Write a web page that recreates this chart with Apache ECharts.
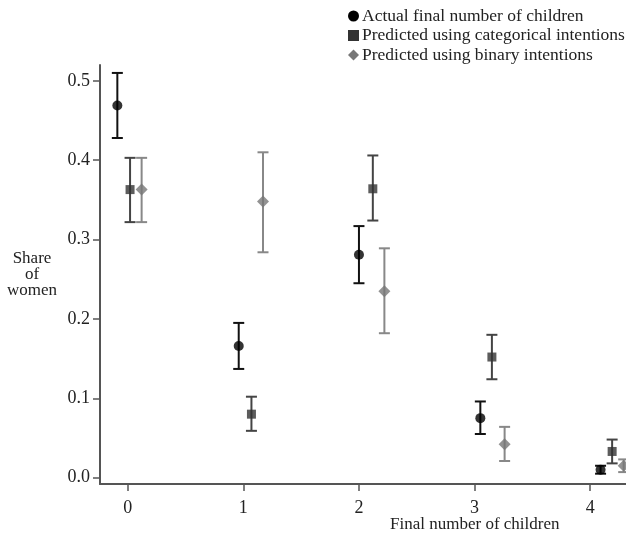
<!DOCTYPE html>
<html>
<head>
<meta charset="utf-8">
<script src="https://cdn.jsdelivr.net/npm/echarts@6/dist/echarts.min.js"></script>
<style>
  html, body { margin: 0; padding: 0; background: #fff; }
  #chart { width: 626px; height: 536px; }
</style>
</head>
<body>
<div id="chart"></div>
<script>
// x ticks
const xTicks = [0, 1, 2, 3, 4]
const yTicks = [0, 0.1, 0.2, 0.3, 0.4, 0.5]

// Actual final number of children
const actualX = [-0.09, 0.96, 2.0, 3.05, 4.09]
const actualMean = [0.469, 0.166, 0.281, 0.075, 0.010]
const actualLow = [0.428, 0.137, 0.245, 0.055, 0.005]
const actualHigh = [0.510, 0.195, 0.317, 0.096, 0.015]

// Predicted using categorical intentions
const catX = [0.02, 1.07, 2.12, 3.15, 4.19]
const catMean = [0.363, 0.080, 0.364, 0.152, 0.033]
const catLow = [0.322, 0.059, 0.324, 0.124, 0.018]
const catHigh = [0.403, 0.102, 0.406, 0.180, 0.048]

// Predicted using binary intentions
const binX = [0.12, 1.17, 2.22, 3.26, 4.29]
const binMean = [0.363, 0.348, 0.235, 0.042, 0.015]
const binLow = [0.322, 0.284, 0.182, 0.021, 0.007]
const binHigh = [0.403, 0.410, 0.289, 0.064, 0.023]

const names = [
  'Actual final number of children',
  'Predicted using categorical intentions',
  'Predicted using binary intentions',
]
const colors = ['#000', '#333', '#777']
const barColors = ['#111', '#444', '#888']
const font = 'Liberation Serif'

const chart = echarts.init(document.getElementById('chart'), null, { renderer: 'canvas' })

function errorBars(name, xs, lows, highs, color) {
  return {
    name: name,
    type: 'custom',
    clip: true,
    z: 2,
    itemStyle: { color: color },
    data: xs.map((x, i) => [x, lows[i], highs[i]]),
    renderItem: (params, api) => {
      const lo = api.coord([api.value(0), api.value(1)])
      const hi = api.coord([api.value(0), api.value(2)])
      const half = 5.5
      const style = { stroke: color, lineWidth: 2 }
      return {
        type: 'group',
        children: [
          { type: 'line', shape: { x1: hi[0], y1: hi[1], x2: lo[0], y2: lo[1] }, style: style },
          { type: 'line', shape: { x1: hi[0] - half, y1: hi[1], x2: hi[0] + half, y2: hi[1] }, style: style },
          { type: 'line', shape: { x1: lo[0] - half, y1: lo[1], x2: lo[0] + half, y2: lo[1] }, style: style },
        ],
      }
    },
  }
}

function points(name, xs, means, symbol, size, color) {
  return {
    name: name,
    type: 'scatter',
    symbol: symbol,
    symbolSize: size,
    z: 3,
    itemStyle: { color: color },
    data: xs.map((x, i) => [x, means[i]]),
  }
}

const option = {
  animation: false,
  grid: { left: 100, right: 0, top: 65, bottom: 52 },
  legend: {
    orient: 'vertical',
    left: 343,
    top: 2,
    itemGap: 1.5,
    itemWidth: 11,
    itemHeight: 11,
    data: [
      { name: names[0], icon: 'circle', itemStyle: { color: colors[0] } },
      { name: names[1], icon: 'rect', itemStyle: { color: colors[1] } },
      { name: names[2], icon: 'diamond', itemStyle: { color: colors[2] } },
    ],
    textStyle: { fontFamily: font, fontSize: 17.5, color: '#222', padding: [0, 0, 0, -2] },
  },
  xAxis: {
    type: 'value',
    min: -0.24,
    max: 4.31,
    splitLine: { show: false },
    axisLine: { onZero: false, lineStyle: { color: '#555', width: 2 } },
    axisTick: { show: true, length: 7, customValues: xTicks, lineStyle: { color: '#555', width: 1.5 } },
    axisLabel: { customValues: xTicks, fontFamily: font, fontSize: 18, color: '#222', margin: 15 },
  },
  yAxis: {
    type: 'value',
    min: -0.008,
    max: 0.52,
    splitLine: { show: false },
    axisLine: { show: true, onZero: false, lineStyle: { color: '#555', width: 2 } },
    axisTick: { show: true, length: 7, customValues: yTicks, lineStyle: { color: '#555', width: 1.5 } },
    axisLabel: {
      customValues: yTicks,
      formatter: (v) => v.toFixed(1),
      fontFamily: font, fontSize: 18, color: '#222', margin: 10,
    },
  },
  graphic: [
    {
      type: 'text',
      x: 32,
      y: 251,
      style: { text: 'Share\nof\nwomen', fontFamily: font, fontSize: 17, fill: '#222', align: 'center', lineHeight: 16 },
    },
    {
      type: 'text',
      x: 390,
      y: 516,
      style: { text: 'Final number of children', fontFamily: font, fontSize: 17, fill: '#222' },
    },
  ],
  series: [
    errorBars(names[0], actualX, actualLow, actualHigh, barColors[0]),
    errorBars(names[1], catX, catLow, catHigh, barColors[1]),
    errorBars(names[2], binX, binLow, binHigh, barColors[2]),
    points(names[0], actualX, actualMean, 'circle', 10, colors[0]),
    points(names[1], catX, catMean, 'rect', 9, colors[1]),
    points(names[2], binX, binMean, 'diamond', 12, colors[2]),
  ],
}
chart.setOption(option)
</script>
</body>
</html>
